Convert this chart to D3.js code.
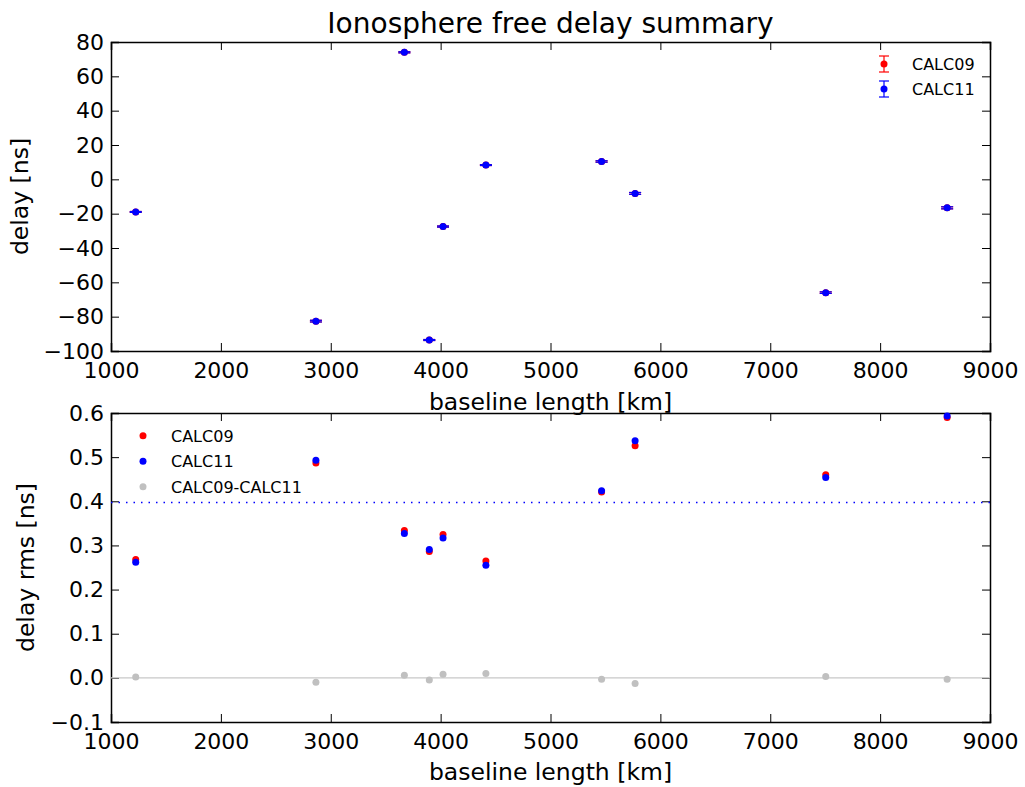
<!DOCTYPE html>
<html>
<head>
<meta charset="utf-8">
<script src="https://cdn.jsdelivr.net/npm/d3@7"></script>
<style>
  body { margin: 0; background: #fff; }
  svg text { font-family: "DejaVu Sans", sans-serif; fill: #000; }
  .axis path, .axis line { stroke: #000; }
</style>
</head>
<body>
<div id="chart"></div>
<script>
// baseline lengths [km]
var baselines = [1225, 2865, 3670, 3897, 4022, 4412, 5465, 5770, 7505, 8610];
// ionosphere free delay [ns]
var delay09 = [-19.0, -82.6, 74.0, -93.6, -27.5, 8.3, 10.4, -8.2, -66.0, -16.6];
var delay11 = [-19.0, -82.6, 74.0, -93.6, -27.5, 8.3, 10.4, -8.2, -66.0, -16.6];
// delay rms [ns]
var rms09 = [0.268, 0.487, 0.334, 0.286, 0.325, 0.265, 0.421, 0.526, 0.460, 0.590];
var rms11 = [0.262, 0.493, 0.327, 0.291, 0.317, 0.255, 0.424, 0.537, 0.454, 0.593];
var rmsDiff = [0.002, -0.010, 0.006, -0.005, 0.008, 0.010, -0.003, -0.013, 0.003, -0.003];
var rmsLimit = 0.397;

var xTicks = [1000, 2000, 3000, 4000, 5000, 6000, 7000, 8000, 9000];
var yTicksTop = [-100, -80, -60, -40, -20, 0, 20, 40, 60, 80];
var yTicksBot = [-0.1, 0.0, 0.1, 0.2, 0.3, 0.4, 0.5, 0.6];

var W = 1025, H = 787;
var left = 111, right = 990;
var top1 = 42, bot1 = 351;
var top2 = 413, bot2 = 722;

var svg = d3.select("#chart").append("svg")
  .attr("width", W)
  .attr("height", H);

var x = d3.scaleLinear().domain([1000, 9000]).range([left, right]);
var y1 = d3.scaleLinear().domain([-100, 80]).range([bot1, top1]);
var y2 = d3.scaleLinear().domain([-0.1, 0.6]).range([bot2, top2]);

// draw frame + inward ticks on all four sides
function frame(y, yTicks, yFmt, top, bot) {
  var g = svg.append("g");
  g.append("g").attr("class", "axis")
    .attr("transform", "translate(0," + bot + ")")
    .call(d3.axisBottom(x).tickValues(xTicks).tickSize(-8).tickPadding(11).tickFormat(d3.format("d")));
  g.append("g").attr("class", "axis")
    .attr("transform", "translate(0," + top + ")")
    .call(d3.axisTop(x).tickValues(xTicks).tickSize(-8).tickFormat(""));
  g.append("g").attr("class", "axis")
    .attr("transform", "translate(" + left + ",0)")
    .call(d3.axisLeft(y).tickValues(yTicks).tickSize(-8).tickPadding(7).tickFormat(yFmt));
  g.append("g").attr("class", "axis")
    .attr("transform", "translate(" + right + ",0)")
    .call(d3.axisRight(y).tickValues(yTicks).tickSize(-8).tickFormat(""));
  g.selectAll(".axis path").attr("stroke-width", 1.5);
  g.selectAll(".axis line").attr("stroke-width", 1);
  g.selectAll(".axis text")
    .attr("font-size", 22)
    .attr("font-family", "DejaVu Sans, sans-serif");
  return g;
}

var minus = function (f) { return function (d) { return f(d).replace("-", "\u2212"); }; };

frame(y1, yTicksTop, minus(d3.format("d")), top1, bot1);
frame(y2, yTicksBot, minus(d3.format(".1f")), top2, bot2);

// hide the ticks that fall on the frame corners
svg.selectAll(".tick").filter(function (d) {
  return d === 1000 || d === 9000 || d === -100 || d === 80 || d === -0.1 || d === 0.6;
}).select("line").remove();

// title and labels
svg.append("text")
  .attr("x", (left + right) / 2)
  .attr("y", 33)
  .attr("text-anchor", "middle")
  .attr("font-size", 28)
  .text("Ionosphere free delay summary");

svg.append("text")
  .attr("x", (left + right) / 2)
  .attr("y", 410)
  .attr("text-anchor", "middle")
  .attr("font-size", 23.5)
  .text("baseline length [km]");

svg.append("text")
  .attr("x", (left + right) / 2)
  .attr("y", 780)
  .attr("text-anchor", "middle")
  .attr("font-size", 23.5)
  .text("baseline length [km]");

svg.append("text")
  .attr("transform", "translate(28," + (top1 + bot1) / 2 + ") rotate(-90)")
  .attr("text-anchor", "middle")
  .attr("font-size", 23.5)
  .text("delay [ns]");

svg.append("text")
  .attr("transform", "translate(34," + (top2 + bot2) / 2 + ") rotate(-90)")
  .attr("text-anchor", "middle")
  .attr("font-size", 23.5)
  .text("delay rms [ns]");

// ---- top panel: error bars ----
var capW = 6;
function errorbars(vals, errs, color) {
  var data = baselines.map(function (b, i) { return { x: b, y: vals[i], e: errs[i] }; });
  var g = svg.append("g");
  var eb = g.selectAll("g.eb").data(data).enter().append("g").attr("class", "eb");
  eb.append("line")
    .attr("x1", function (d) { return x(d.x); })
    .attr("x2", function (d) { return x(d.x); })
    .attr("y1", function (d) { return y1(d.y - d.e); })
    .attr("y2", function (d) { return y1(d.y + d.e); })
    .attr("stroke", color).attr("stroke-width", 1);
  [-1, 1].forEach(function (s) {
    eb.append("line")
      .attr("x1", function (d) { return x(d.x) - capW; })
      .attr("x2", function (d) { return x(d.x) + capW; })
      .attr("y1", function (d) { return y1(d.y + s * d.e); })
      .attr("y2", function (d) { return y1(d.y + s * d.e); })
      .attr("stroke", color).attr("stroke-width", 1.2);
  });
  eb.append("circle")
    .attr("cx", function (d) { return x(d.x); })
    .attr("cy", function (d) { return y1(d.y); })
    .attr("r", 3.5)
    .attr("fill", color);
}
errorbars(delay09, rms09, "#ff0000");
errorbars(delay11, rms11, "#0000ff");

// top legend (no frame)
var legTop = [{ name: "CALC09", c: "#ff0000" }, { name: "CALC11", c: "#0000ff" }];
legTop.forEach(function (d, i) {
  var lx = 884, ly = 64 + i * 25;
  svg.append("line").attr("x1", lx).attr("x2", lx).attr("y1", ly - 8).attr("y2", ly + 8)
    .attr("stroke", d.c).attr("stroke-width", 1.2);
  [-8, 8].forEach(function (o) {
    svg.append("line").attr("x1", lx - 5).attr("x2", lx + 5).attr("y1", ly + o).attr("y2", ly + o)
      .attr("stroke", d.c).attr("stroke-width", 1.2);
  });
  svg.append("circle").attr("cx", lx).attr("cy", ly).attr("r", 3.5).attr("fill", d.c);
  svg.append("text").attr("x", 912).attr("y", ly + 6).attr("font-size", 16).text(d.name);
});

// ---- bottom panel ----
svg.append("line")
  .attr("x1", x(1000)).attr("x2", x(9000))
  .attr("y1", y2(0)).attr("y2", y2(0))
  .attr("stroke", "#c8c8c8").attr("stroke-width", 1.2);

svg.append("line")
  .attr("x1", x(1000)).attr("x2", x(9000))
  .attr("y1", y2(rmsLimit)).attr("y2", y2(rmsLimit))
  .attr("stroke", "#0000ff").attr("stroke-width", 1.5)
  .attr("stroke-dasharray", "1.5,6");

function dots(vals, color) {
  svg.append("g").selectAll("circle")
    .data(baselines.map(function (b, i) { return [b, vals[i]]; }))
    .enter().append("circle")
    .attr("cx", function (d) { return x(d[0]); })
    .attr("cy", function (d) { return y2(d[1]); })
    .attr("r", 3.5)
    .attr("fill", color);
}
dots(rmsDiff, "#c0c0c0");
dots(rms09, "#ff0000");
dots(rms11, "#0000ff");

var legBot = [
  { name: "CALC09", c: "#ff0000" },
  { name: "CALC11", c: "#0000ff" },
  { name: "CALC09-CALC11", c: "#c0c0c0" }
];
legBot.forEach(function (d, i) {
  var ly = 435.7 + i * 25.5;
  svg.append("circle").attr("cx", 143).attr("cy", ly).attr("r", 3.5).attr("fill", d.c);
  svg.append("text").attr("x", 171).attr("y", ly + 6).attr("font-size", 16).text(d.name);
});
</script>
</body>
</html>
